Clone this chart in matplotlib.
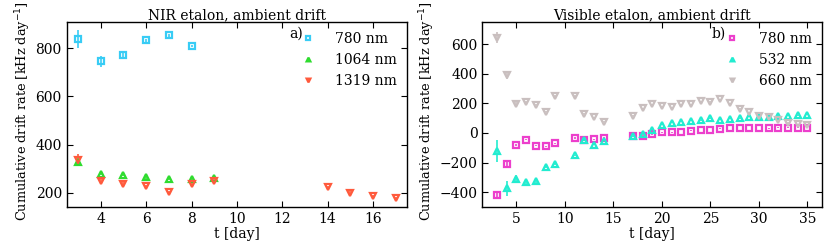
import matplotlib
matplotlib.use("Agg")
import matplotlib.pyplot as plt

plt.rcParams['font.family'] = ['DejaVu Serif']
plt.rcParams['font.size'] = 10

# ---- Panel a) NIR etalon ----
t_780a = [3, 4, 5, 6, 7, 8]
v_780a = [839, 746, 774, 833, 854, 811]
e_780a = [36, 24, 14, 7, 5, 5]

t_1064 = [3, 4, 5, 6, 7, 8, 9]
v_1064 = [329, 279, 274, 263, 258, 258, 262]
e_1064 = [10, 5, 5, 5, 5, 5, 5]

t_1319 = [3, 4, 5, 6, 7, 8, 9, 14, 15, 16, 17]
v_1319 = [337, 247, 236, 228, 203, 236, 250, 222, 200, 186, 176]
e_1319 = [24, 8, 6, 5, 5, 5, 5, 5, 5, 5, 5]

# ---- Panel b) Visible etalon ----
t_vis = [3, 4, 5, 6, 7, 8, 9, 11, 12, 13, 14, 17, 18, 19, 20, 21, 22, 23,
         24, 25, 26, 27, 28, 29, 30, 31, 32, 33, 34, 35]
v_780b = [-416, -211, -82, -45, -86, -91, -70, -34, -48, -43, -32, -20, -18, -9,
          5, 5, 7, 16, 20, 20, 30, 34, 34, 34, 34, 32, 36, 36, 36, 36]
e_780b = [25, 12, 8, 5, 5, 5, 5, 4, 4, 4, 4, 3, 3, 3, 3, 3, 3, 3, 3, 3, 3, 3,
          3, 3, 3, 3, 3, 3, 3, 3]
v_532 = [-120, -375, -309, -332, -327, -227, -207, -152, -48, -80, -57, -23, -9, 23,
         57, 70, 75, 84, 86, 98, 91, 95, 98, 109, 111, 109, 116, 116, 120, 123]
e_532 = [75, 50, 28, 18, 12, 8, 6, 5, 4, 4, 4, 3, 3, 3, 3, 3, 3, 3, 3, 3, 3,
         3, 3, 3, 3, 3, 3, 3, 3, 3]
v_660 = [645, 393, 198, 211, 191, 145, 250, 250, 130, 107, 77, 118, 168, 193,
         180, 173, 195, 195, 214, 211, 227, 202, 164, 139, 118, 109, 91, 70, 59, 55]
e_660 = [40, 25, 10, 6, 5, 5, 5, 5, 4, 4, 4, 3, 3, 3, 3, 3, 3, 3, 3, 3, 3, 3,
         3, 3, 3, 3, 3, 3, 3, 3]

labels_a = ['780 nm', '1064 nm', '1319 nm']
labels_b = ['780 nm', '532 nm', '660 nm']

c_780a = '#38ccf5'
c_1064 = '#2fdc2f'
c_1319 = '#ff5a3c'
c_780b = '#ec3fcc'
c_532 = '#22ecd0'
c_660 = '#c9bfbf'

fig = plt.figure(figsize=(8.31, 2.47), dpi=100)
ax1 = fig.add_axes([0.0803, 0.162, 0.4095, 0.749])
ax2 = fig.add_axes([0.5806, 0.162, 0.4085, 0.749])

def series(ax, t, v, e, marker, color):
    c = ax.errorbar(t, v, yerr=e, fmt=marker, color=color, ecolor=color,
                    mfc='none', mec=color, mew=1.6, ms=4.5, elinewidth=1.2,
                    capsize=0)
    return c[0]

h1 = [series(ax1, t_780a, v_780a, e_780a, 's', c_780a),
      series(ax1, t_1064, v_1064, e_1064, '^', c_1064),
      series(ax1, t_1319, v_1319, e_1319, 'v', c_1319)]

h2 = [series(ax2, t_vis, v_780b, e_780b, 's', c_780b),
      series(ax2, t_vis, v_532, e_532, '^', c_532),
      series(ax2, t_vis, v_660, e_660, 'v', c_660)]

ax1.set_xlim(2.5, 17.5)
ax1.set_ylim(140, 910)
ax1.set_xticks([4, 6, 8, 10, 12, 14, 16])
ax1.set_yticks([200, 400, 600, 800])
ax1.set_title('NIR etalon, ambient drift', fontsize=10, pad=2)
ax1.text(0.655, 0.975, 'a)', transform=ax1.transAxes, ha='left', va='top')

ax2.set_xlim(1.5, 36.5)
ax2.set_ylim(-500, 750)
ax2.set_xticks([5, 10, 15, 20, 25, 30, 35])
ax2.set_yticks([-400, -200, 0, 200, 400, 600])
ax2.set_title('Visible etalon, ambient drift', fontsize=10, pad=2)
ax2.text(0.675, 0.975, 'b)', transform=ax2.transAxes, ha='left', va='top')

for ax, hs, lb in ((ax1, h1, labels_a), (ax2, h2, labels_b)):
    ax.set_xlabel('t [day]', labelpad=1)
    ax.set_ylabel('Cumulative drift rate [kHz day$^{-1}$]', labelpad=2,
                  fontsize=9.3, y=0.52)
    ax.tick_params(direction='in', top=True, right=True, length=4, width=0.8)
    for s in ax.spines.values():
        s.set_linewidth(1.0)
    ax.legend(hs, lb, loc='upper right', frameon=False, numpoints=1,
              markerscale=0.6, handlelength=1.5, borderaxespad=0.3,
              handletextpad=1.2)

fig.savefig('out.png', dpi=100)
